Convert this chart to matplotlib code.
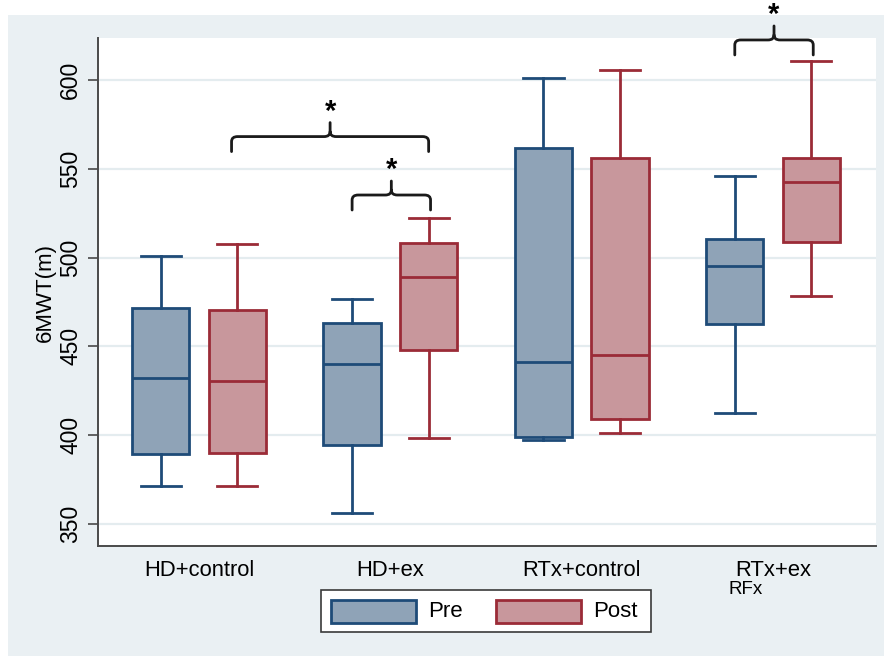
import matplotlib
matplotlib.use("Agg")
import matplotlib.pyplot as plt
from matplotlib.patches import Rectangle, PathPatch
from matplotlib.path import Path

plt.rcParams['font.family'] = ['Liberation Sans', 'DejaVu Sans']

# ---- data ----
categories = ["HD+control", "HD+ex", "RTx+control", "RTx+ex"]
series = ["Pre", "Post"]
pre_whislo = [371.4, 356.4, 397.3, 412.3]
pre_q1     = [389.4, 394.7, 399.2, 462.6]
pre_med    = [432.4, 440.1, 441.4, 495.3]
pre_q3     = [471.6, 463.3, 561.5, 510.5]
pre_whishi = [500.8, 476.7, 601.3, 546.0]
post_whislo = [371.4, 398.4, 401.0, 478.4]
post_q1     = [389.8, 448.0, 409.1, 508.6]
post_med    = [430.7, 489.3, 445.2, 542.8]
post_q3     = [470.3, 508.0, 555.9, 555.9]
post_whishi = [507.7, 522.5, 605.6, 610.7]
yticks = [350, 400, 450, 500, 550, 600]
ylabel = "6MWT(m)"
extra_label = "RFx"
# significance brackets: (left x, right x, bracket level)
brackets = [(1.17, 2.20, 568.1), (1.80, 2.21, 535.2), (3.80, 4.21, 622.5)]

pre_fill, pre_edge = "#8FA3B7", "#1E4B78"
post_fill, post_edge = "#C8979C", "#9B2B37"

fig = plt.figure(figsize=(8.84, 6.56), dpi=100)
fig.patch.set_facecolor("white")
fig.add_artist(Rectangle((8/884, 0), 1, 1 - 15/656, transform=fig.transFigure,
                         facecolor="#EAF0F3", edgecolor="none", zorder=-10))

ax = fig.add_axes([98/884, 1 - 546/656, (876 - 98)/884, (546 - 38)/656])
ax.set_facecolor("white")

def stats(lo, q1, med, q3, hi):
    return [dict(whislo=a, q1=b, med=c, q3=d, whishi=e, fliers=[])
            for a, b, c, d, e in zip(lo, q1, med, q3, hi)]

pos = list(range(1, len(categories) + 1))
off = 0.2
for st, dx, fc, ec in [(stats(pre_whislo, pre_q1, pre_med, pre_q3, pre_whishi), -off, pre_fill, pre_edge),
                       (stats(post_whislo, post_q1, post_med, post_q3, post_whishi), off, post_fill, post_edge)]:
    ax.bxp(st, positions=[p + dx for p in pos], widths=0.30, patch_artist=True,
           showfliers=False, capwidths=0.21,
           boxprops=dict(facecolor=fc, edgecolor=ec, linewidth=2.0),
           medianprops=dict(color=ec, linewidth=2.0),
           whiskerprops=dict(color=ec, linewidth=2.0),
           capprops=dict(color=ec, linewidth=2.0))

ax.set_xlim(0.472, 4.538)
ax.set_ylim(337.6, 623.6)
ax.set_yticks(yticks)
ax.set_yticklabels([str(t) for t in yticks], rotation=90, va="center", fontsize=16.5)
ax.set_xticks(pos)
ax.set_xticklabels(categories, fontsize=15.8)
ax.tick_params(axis="x", length=0, pad=10)
ax.tick_params(axis="y", length=7.5, width=1.3, color="#555555", pad=4)
ax.grid(axis="y", color="#E4ECEF", linewidth=1.6)
ax.set_axisbelow(True)
for s in ["top", "right"]:
    ax.spines[s].set_visible(False)
for s in ["left", "bottom"]:
    ax.spines[s].set_color("#4A4A4A")
    ax.spines[s].set_linewidth(1.4)
ax.set_ylabel(ylabel, fontsize=16, labelpad=2)

ax.text(3.765, 318.0, extra_label, fontsize=13.5, ha="left", va="top", clip_on=False)

# brackets
sx = 1 / 191.3   # data units per pixel (x)
sy = 1 / 1.776   # data units per pixel (y)
def brace(x0, x1, yt):
    yb = yt - 15 * sy
    yp = yt + 14 * sy
    xm = (x0 + x1) / 2
    cx, cy = 6 * sx, 5 * sy
    verts = [(x0, yb), (x0, yt - cy), (x0, yt), (x0 + cx, yt), (xm - cx, yt),
             (xm, yt), (xm, yt + cy), (xm, yp),
             (xm, yt + cy), (xm, yt), (xm + cx, yt), (x1 - cx, yt),
             (x1, yt), (x1, yt - cy), (x1, yb)]
    codes = [Path.MOVETO, Path.LINETO, Path.CURVE3, Path.CURVE3, Path.LINETO,
             Path.CURVE3, Path.CURVE3, Path.LINETO,
             Path.MOVETO, Path.CURVE3, Path.CURVE3, Path.LINETO,
             Path.CURVE3, Path.CURVE3, Path.LINETO]
    ax.add_patch(PathPatch(Path(verts, codes), facecolor="none", edgecolor="#1A1A1A",
                           linewidth=2.0, clip_on=False, capstyle="round"))
    ax.text(xm, yp - 3 * sy, "*", ha="center", va="bottom", fontsize=21,
            fontweight="bold", clip_on=False)

for x0, x1, yt in brackets:
    brace(x0, x1, yt)

# legend
lx0, ly0, lx1, ly1 = 321, 590, 651, 632
def fx(px): return px / 884
def fy(py): return 1 - py / 656
fig.add_artist(Rectangle((fx(lx0), fy(ly1)), fx(lx1) - fx(lx0), fy(ly0) - fy(ly1),
                         transform=fig.transFigure, facecolor="white", edgecolor="#3A3A3A",
                         linewidth=1.2))
for (px0, tx, label, fc, ec) in [(331, 428, series[0], pre_fill, pre_edge),
                                 (496, 593, series[1], post_fill, post_edge)]:
    fig.add_artist(Rectangle((fx(px0), fy(623)), fx(85), fy(600) - fy(623),
                             transform=fig.transFigure, facecolor=fc, edgecolor=ec,
                             linewidth=2.0))
    fig.text(fx(tx), fy(611.5), label, fontsize=16, ha="left", va="center")

fig.savefig("out.png", dpi=100)
